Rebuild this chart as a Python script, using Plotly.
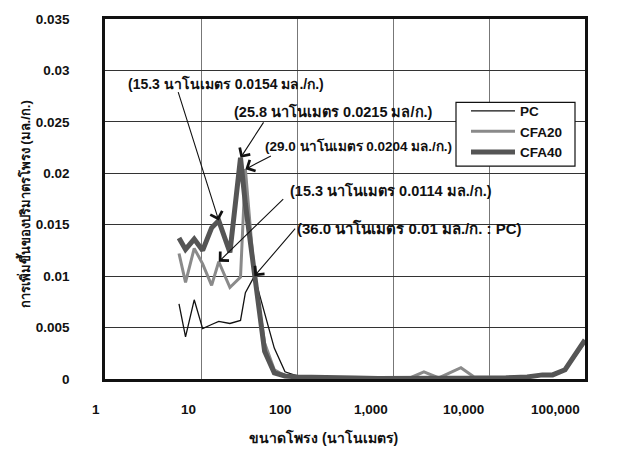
import math
import plotly.graph_objects as go

# Pore diameter (nm) and incremental intrusion volume (ml/g)
pore_nm = [5.9, 6.9, 8.5, 10.4, 12.9, 15.3, 20.0, 25.8, 29.0, 36.0, 46, 58, 75, 100,
           150, 250, 400, 700, 1000, 1500, 2100, 3000, 5100, 7000, 10000, 15000,
           25000, 36000, 46000, 62000, 100000]

pc = [0.0073, 0.0041, 0.0077, 0.0049, 0.0053, 0.0056, 0.0054, 0.0057, 0.0084, 0.0100,
      0.0064, 0.0030, 0.0007, 0.0003, 0.0002, 0.0001, 0.0001, 0.0001, 0.0001, 0.0001,
      0.0001, 0.0001, 0.0001, 0.0001, 0.0001, 0.0001, 0.0002, 0.0003, 0.0004, 0.0008,
      0.0037]

cfa20 = [0.0122, 0.0094, 0.0127, 0.0112, 0.0091, 0.0114, 0.0089, 0.0099, 0.0204, 0.0100,
         0.0035, 0.0009, 0.0003, 0.0002, 0.0002, 0.0001, 0.0001, 0.0001, 0.0001, 0.0001,
         0.0007, 0.0001, 0.0011, 0.0002, 0.0002, 0.0002, 0.0002, 0.0004, 0.0004, 0.0009,
         0.0036]

cfa40 = [0.0137, 0.0126, 0.0136, 0.0125, 0.0147, 0.0154, 0.0123, 0.0215, 0.0170, 0.0099,
         0.0027, 0.0006, 0.0003, 0.0002, 0.0002, 0.0001, 0.0001, 0.00005, 0.00005, 0.0001,
         0.0001, 0.0001, 0.0001, 0.0001, 0.0001, 0.0001, 0.0002, 0.0004, 0.0004, 0.0009,
         0.0038]

x_ticks = [1, 10, 100, 1000, 10000, 100000]
x_tick_text = ["1", "10", "100", "1,000", "10,000", "100,000"]
y_ticks = [0, 0.005, 0.01, 0.015, 0.02, 0.025, 0.03, 0.035]
y_tick_text = ["0", "0.005", "0.01", "0.015", "0.02", "0.025", "0.03", "0.035"]

# Called-out points: (pore size, value, label)
callouts = [
    (15.3, 0.0154, "(15.3 นาโนเมตร 0.0154 มล./ก.)"),
    (25.8, 0.0215, "(25.8 นาโนเมตร 0.0215 มล/ก.)"),
    (29.0, 0.0204, "(29.0 นาโนเมตร 0.0204 มล./ก.)"),
    (15.3, 0.0114, "(15.3 นาโนเมตร 0.0114 มล./ก.)"),
    (36.0, 0.0100, "(36.0 นาโนเมตร 0.01 มล./ก. : PC)"),
]
# Per-callout layout: arrow tail offset (px), label left edge / centre (px in page)
callout_style = [
    dict(ax=-41, ay=-130, left=126, cy=78, size=14),
    dict(ax=24, ay=-37, left=232, cy=106, size=14.5),
    dict(ax=27, ay=-14, left=263, cy=141, size=13.5),
    dict(ax=66, ay=-64, left=288, cy=187, size=14.5),
    dict(ax=42, ay=-49, left=295, cy=225, size=15),
]

W, H = 620, 449
L, R, T, B = 105, 35, 12, 70
pw, ph = W - L - R, H - T - B


def px_x(p):
    return (p - L) / pw


def px_y(p):
    return (H - B - p) / ph


FONT = "Liberation Sans, Arial, Helvetica, sans-serif"

fig = go.Figure()
fig.add_trace(go.Scatter(x=pore_nm, y=pc, name="PC", mode="lines",
                         line=dict(color="#111111", width=1.3)))
fig.add_trace(go.Scatter(x=pore_nm, y=cfa20, name="CFA20", mode="lines",
                         line=dict(color="#8a8a8a", width=3)))
fig.add_trace(go.Scatter(x=pore_nm, y=cfa40, name="CFA40", mode="lines",
                         line=dict(color="#555555", width=5)))

ann = []
for (px, py, label), st in zip(callouts, callout_style):
    ann.append(dict(x=math.log10(px), y=py, xref="x", yref="y", text="",
                    showarrow=True, ax=st["ax"], ay=st["ay"], arrowhead=4,
                    arrowsize=2.2, arrowwidth=1.1, arrowcolor="#111111", standoff=0))
    ann.append(dict(x=px_x(st["left"]), y=px_y(st["cy"]),
                    xref="paper", yref="paper", text=label, showarrow=False,
                    xanchor="left", yanchor="middle",
                    font=dict(family=FONT, size=st["size"], color="#111111", weight="bold")))

for v, t in zip(x_ticks, x_tick_text):
    ann.append(dict(x=math.log10(v), y=0, xref="x", yref="paper", text=t,
                    showarrow=False, xanchor="right", yanchor="middle",
                    xshift=-3, yshift=-30,
                    font=dict(family=FONT, size=13.5, color="#111111", weight="bold")))

ann.append(dict(x=px_x(323), y=px_y(439), xref="paper", yref="paper",
                text="ขนาดโพรง (นาโนเมตร)", showarrow=False,
                xanchor="center", yanchor="middle",
                font=dict(family=FONT, size=14, color="#111111", weight="bold")))
ann.append(dict(x=px_x(24), y=px_y(201), xref="paper", yref="paper",
                text="การเพิ่มขึ้นของปริมาตรโพรง (มล./ก.)", showarrow=False,
                textangle=-90, xanchor="center", yanchor="middle",
                font=dict(family=FONT, size=13, color="#111111", weight="bold")))

# White framed box behind the legend entries
legend_box = dict(type="rect", xref="paper", yref="paper",
                  x0=px_x(456), x1=px_x(575), y0=px_y(162), y1=px_y(97),
                  fillcolor="white", line=dict(color="#111111", width=1.2),
                  layer="above")

fig.update_layout(
    width=W, height=H,
    margin=dict(l=L, r=R, t=T, b=B),
    paper_bgcolor="white", plot_bgcolor="white",
    font=dict(family=FONT, size=13, color="#111111"),
    showlegend=True,
    legend=dict(x=px_x(466), y=px_y(90), xanchor="left", yanchor="top",
                bgcolor="rgba(0,0,0,0)", borderwidth=0,
                font=dict(family=FONT, size=13.5, color="#111111", weight="bold"),
                itemwidth=44, tracegroupgap=0),
    shapes=[legend_box],
    annotations=ann,
)
fig.update_xaxes(type="log", range=[0, 5], tickvals=x_ticks, showticklabels=False,
                 showgrid=True, gridcolor="#777777", gridwidth=1.3,
                 showline=True, linecolor="#111111", linewidth=2.5, mirror=True,
                 ticks="", zeroline=False)
fig.update_yaxes(range=[0, 0.035], tickvals=y_ticks, ticktext=y_tick_text,
                 showgrid=True, gridcolor="#333333", gridwidth=1,
                 showline=True, linecolor="#111111", linewidth=2.5, mirror=True,
                 ticks="", ticklabelstandoff=30, zeroline=False,
                 tickfont=dict(family=FONT, size=13.5, color="#111111", weight="bold"))

fig.write_html("out.html")
